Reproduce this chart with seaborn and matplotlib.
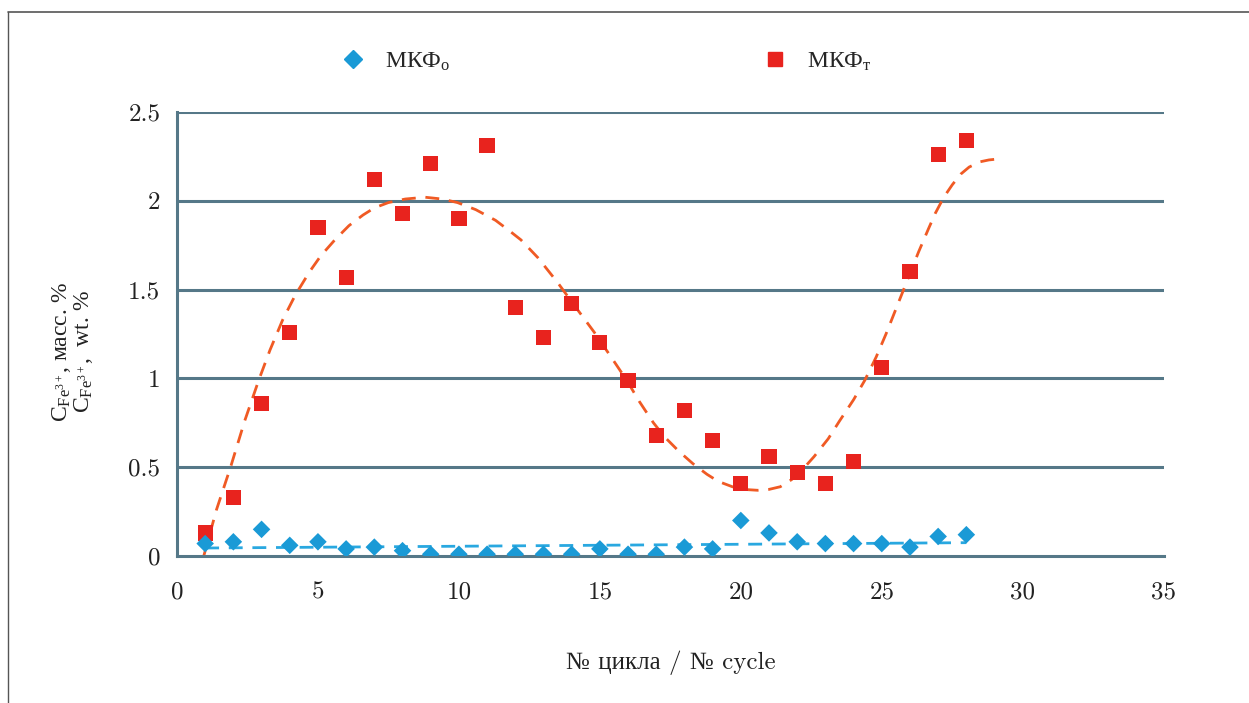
import numpy as np
import pandas as pd
import matplotlib
matplotlib.use("Agg")
import matplotlib.pyplot as plt
from matplotlib.lines import Line2D
from matplotlib.ticker import FuncFormatter
import seaborn as sns

# ---- data ----
cycles = list(range(1, 29))
mkf_t = [0.13, 0.33, 0.86, 1.26, 1.85, 1.57, 2.12, 1.93, 2.21, 1.90,
         2.31, 1.40, 1.23, 1.42, 1.20, 0.99, 0.68, 0.82, 0.65, 0.41,
         0.56, 0.47, 0.41, 0.53, 1.06, 1.60, 2.26, 2.34]
mkf_o = [0.07, 0.08, 0.15, 0.06, 0.08, 0.04, 0.05, 0.03, 0.01, 0.01,
         0.01, 0.01, 0.01, 0.01, 0.04, 0.01, 0.01, 0.05, 0.04, 0.20,
         0.13, 0.08, 0.07, 0.07, 0.07, 0.05, 0.11, 0.12]

# trend lines as drawn in the reference
trend_t_x = [0.95, 1.4, 1.9, 2.4, 2.9, 3.3, 3.75, 4.2, 4.7, 5.1, 5.6, 6.1,
             6.6, 7.0, 7.5, 8.1, 8.8, 9.4, 9.95, 10.6, 11.3, 11.8, 12.2,
             12.8, 13.5, 14.1, 14.8, 15.4, 15.95, 16.4, 16.9, 17.3, 17.8,
             18.3, 18.8, 19.2, 19.7, 20.1, 20.6, 21.0, 21.4, 21.8, 22.15,
             22.6, 23.1, 23.5, 24.0, 24.4, 24.8, 25.15, 25.5, 25.9, 26.3,
             26.65, 26.9, 27.2, 27.5, 27.8, 28.1, 28.5, 28.8, 29.1]
trend_t_y = [0.0, 0.26, 0.50, 0.76, 0.99, 1.16, 1.33, 1.47, 1.60, 1.69,
             1.78, 1.86, 1.92, 1.96, 1.99, 2.01, 2.02, 2.01, 1.99, 1.95,
             1.89, 1.83, 1.78, 1.68, 1.54, 1.41, 1.26, 1.12, 0.99, 0.87,
             0.75, 0.67, 0.59, 0.52, 0.46, 0.42, 0.39, 0.375, 0.37, 0.375,
             0.39, 0.43, 0.48, 0.56, 0.66, 0.76, 0.88, 0.99, 1.12, 1.25,
             1.39, 1.55, 1.71, 1.84, 1.93, 2.02, 2.09, 2.15, 2.19, 2.22,
             2.23, 2.235]
trend_o_x = [1.0, 28.0]
trend_o_y = [0.045, 0.075]

label_o = r"МКФ$_\mathrm{о}$"
label_t = r"МКФ$_\mathrm{т}$"
x_ticks = [0, 5, 10, 15, 20, 25, 30, 35]
y_ticks = [0, 0.5, 1, 1.5, 2, 2.5]
xlabel = "№ цикла / № cycle"
ylabel = "C$_{\\mathrm{Fe}^{3+}}$, масс. %\nC$_{\\mathrm{Fe}^{3+}}$,  wt. %"

sns.set_theme(style="white")
plt.rcParams["font.family"] = ["cmr10", "Liberation Serif"]
plt.rcParams["mathtext.fontset"] = "custom"
plt.rcParams["mathtext.rm"] = "Liberation Serif"
plt.rcParams["mathtext.it"] = "Liberation Serif:italic"
plt.rcParams["axes.formatter.use_mathtext"] = True

TXT = ["Liberation Serif"]

df = pd.DataFrame({"cycle": cycles, "t": mkf_t, "o": mkf_o})
trend_t = pd.DataFrame({"x": trend_t_x, "y": trend_t_y})
trend_o = pd.DataFrame({"x": trend_o_x, "y": trend_o_y})

fig = plt.figure(figsize=(12.49, 7.03), dpi=100)
ax = fig.add_axes([0.1417, 0.2091, 0.790, 0.6316])

grid_c = "#557888"
for yv in y_ticks[1:]:
    ax.axhline(yv, color=grid_c, lw=2.2, zorder=0)

sns.lineplot(data=trend_t, x="x", y="y", ax=ax, color="#f05a24", lw=2,
             linestyle=(0, (5, 3.5)), zorder=2, sort=False)
sns.lineplot(data=trend_o, x="x", y="y", ax=ax, color="#29a8e0", lw=2,
             linestyle=(0, (5, 3.5)), zorder=2, sort=False)
sns.scatterplot(data=df, x="cycle", y="t", ax=ax, marker="s", s=120,
                color="#e8231e", edgecolor="none", zorder=3)
sns.scatterplot(data=df, x="cycle", y="o", ax=ax, marker="D", s=80,
                color="#1a9ad6", edgecolor="none", zorder=4)

ax.set_xlim(0, 35)
ax.set_ylim(0, 2.5)
ax.set_xticks(x_ticks)
ax.set_yticks(y_ticks)
fmt = FuncFormatter(lambda v, p: f"{v:g}")
ax.xaxis.set_major_formatter(fmt)
ax.yaxis.set_major_formatter(fmt)
ax.tick_params(axis="both", length=0, labelsize=18, colors="#222222")
ax.tick_params(axis="x", pad=18)
ax.tick_params(axis="y", pad=12)
for s in ["top", "right"]:
    ax.spines[s].set_visible(False)
for s in ["left", "bottom"]:
    ax.spines[s].set_color(grid_c)
    ax.spines[s].set_linewidth(2.2)

ax.set_xlabel(xlabel, fontsize=18, color="#222222", labelpad=34)
ax.set_ylabel(ylabel, fontsize=17, color="#222222", linespacing=0.95,
              family=TXT)
ax.yaxis.set_label_coords(-0.083, 0.46)

handles = [
    Line2D([], [], marker="D", color="#1a9ad6", lw=0, markersize=9),
    Line2D([], [], marker="s", color="#e8231e", lw=0, markersize=10),
]
ax.legend(handles, [label_o, label_t], ncol=2, frameon=False,
          prop={"family": TXT, "size": 17}, handlelength=1.0,
          handletextpad=0.85, columnspacing=13.25, loc="center left",
          bbox_to_anchor=(0.2565, 0.912), bbox_transform=fig.transFigure)

# outer frame lines
fig.add_artist(Line2D([0.0064, 1.0], [0.983, 0.983], color="#555555", lw=1.2,
                      transform=fig.transFigure))
fig.add_artist(Line2D([0.0064, 0.0064], [0.0, 0.983], color="#555555", lw=1.0,
                      transform=fig.transFigure))

fig.savefig("out.png", dpi=100)
